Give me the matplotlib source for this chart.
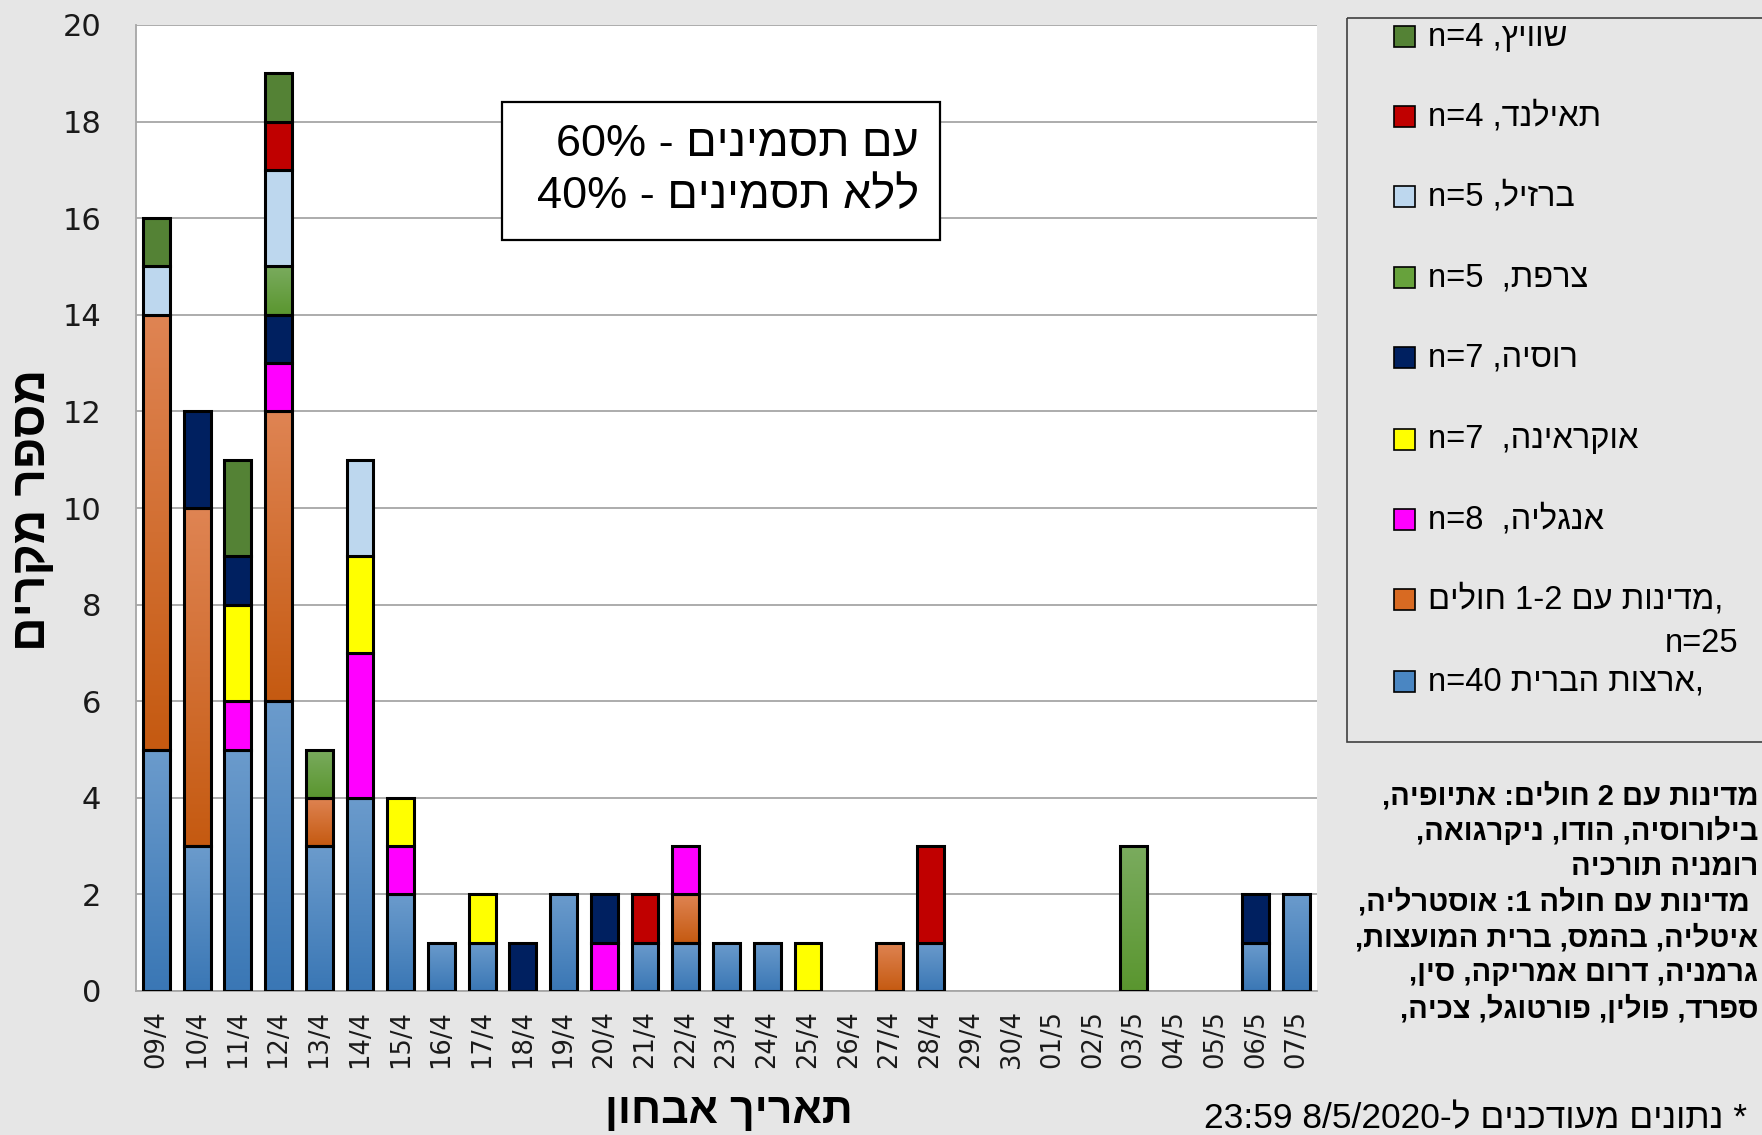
import re
import numpy as np
import matplotlib
matplotlib.use("Agg")
import matplotlib.pyplot as plt
from matplotlib.patches import Rectangle
from matplotlib.transforms import Affine2D
from matplotlib.colors import LinearSegmentedColormap

# ---------------- data ----------------
dates = ["09/4", "10/4", "11/4", "12/4", "13/4", "14/4", "15/4", "16/4", "17/4",
         "18/4", "19/4", "20/4", "21/4", "22/4", "23/4", "24/4", "25/4", "26/4",
         "27/4", "28/4", "29/4", "30/4", "01/5", "02/5", "03/5", "04/5", "05/5",
         "06/5", "07/5"]

usa      = [5, 3, 5, 6, 3, 4, 2, 1, 1, 0, 2, 0, 1, 1, 1, 1, 0, 0, 0, 1, 0, 0, 0, 0, 0, 0, 0, 1, 2]
other    = [9, 7, 0, 6, 1, 0, 0, 0, 0, 0, 0, 0, 0, 1, 0, 0, 0, 0, 1, 0, 0, 0, 0, 0, 0, 0, 0, 0, 0]
england  = [0, 0, 1, 1, 0, 3, 1, 0, 0, 0, 0, 1, 0, 1, 0, 0, 0, 0, 0, 0, 0, 0, 0, 0, 0, 0, 0, 0, 0]
ukraine  = [0, 0, 2, 0, 0, 2, 1, 0, 1, 0, 0, 0, 0, 0, 0, 0, 1, 0, 0, 0, 0, 0, 0, 0, 0, 0, 0, 0, 0]
russia   = [0, 2, 1, 1, 0, 0, 0, 0, 0, 1, 0, 1, 0, 0, 0, 0, 0, 0, 0, 0, 0, 0, 0, 0, 0, 0, 0, 1, 0]
france   = [0, 0, 0, 1, 1, 0, 0, 0, 0, 0, 0, 0, 0, 0, 0, 0, 0, 0, 0, 0, 0, 0, 0, 0, 3, 0, 0, 0, 0]
brazil   = [1, 0, 0, 2, 0, 2, 0, 0, 0, 0, 0, 0, 0, 0, 0, 0, 0, 0, 0, 0, 0, 0, 0, 0, 0, 0, 0, 0, 0]
thailand = [0, 0, 0, 1, 0, 0, 0, 0, 0, 0, 0, 0, 1, 0, 0, 0, 0, 0, 0, 2, 0, 0, 0, 0, 0, 0, 0, 0, 0]
swiss    = [1, 0, 2, 1, 0, 0, 0, 0, 0, 0, 0, 0, 0, 0, 0, 0, 0, 0, 0, 0, 0, 0, 0, 0, 0, 0, 0, 0, 0]

yticks = [0, 2, 4, 6, 8, 10, 12, 14, 16, 18, 20]

# legend labels (logical Hebrew order)
lab_usa = ",ארצות הברית n=40"
lab_other = ",מדינות עם 1-2 חולים"
lab_other2 = "n=25"
lab_england = "אנגליה,  n=8"
lab_ukraine = "אוקראינה,  n=7"
lab_russia = "רוסיה, n=7"
lab_france = "צרפת,  n=5"
lab_brazil = "ברזיל, n=5"
lab_thailand = "תאילנד, n=4"
lab_swiss = "שוויץ, n=4"

box_lines = ["עם תסמינים - 60%", "ללא תסמינים - 40%"]
notes = ["מדינות עם 2 חולים: אתיופיה,",
         "בילורוסיה, הודו, ניקרגואה,",
         "רומניה תורכיה",
         " מדינות עם חולה 1: אוסטרליה,",
         "איטליה, בהמס, ברית המועצות,",
         "גרמניה, דרום אמריקה, סין,",
         "ספרד, פולין, פורטוגל, צכיה,"]
footnote = "* נתונים מעודכנים ל-8/5/2020 23:59"
ylabel = "מספר מקרים"
xlabel = "תאריך אבחון"

# ---------------- helpers ----------------
LTR = re.compile(r"[0-9A-Za-z%](?:[0-9A-Za-z%=/:.\-]*[0-9A-Za-z%])?")


def heb(s):
    """Very small bidi: produce visual (LTR) order for an RTL paragraph."""
    parts, pos = [], 0
    for m in LTR.finditer(s):
        if m.start() > pos:
            parts.append(s[pos:m.start()][::-1])
        parts.append(m.group())
        pos = m.end()
    if pos < len(s):
        parts.append(s[pos:][::-1])
    return "".join(parts[::-1])


W, H, DPI = 1762, 1135, 100
BG = "#e6e6e6"
plt.rcParams["font.family"] = ["Liberation Sans", "DejaVu Sans"]

fig = plt.figure(figsize=(W / DPI, H / DPI), dpi=DPI, facecolor=BG)
px = Affine2D().scale(1.0 / W, -1.0 / H).translate(0, 1) + fig.transFigure

ax = fig.add_axes([136 / W, 1 - 991 / H, (1317 - 136) / W, (991 - 25) / H])
ax.set_facecolor("white")

x = np.arange(len(dates))
series = [
    (usa, "#4a86c2", ("#6b9bcc", "#3a77b5")),
    (other, "#d86a22", ("#df8453", "#c55a11")),
    (england, "#ff00ff", None),
    (ukraine, "#ffff00", None),
    (russia, "#002060", None),
    (france, "#67a23c", ("#7aab5e", "#5a962f")),
    (brazil, "#bdd7ee", None),
    (thailand, "#c00000", None),
    (swiss, "#548235", None),
]

bottom = np.zeros(len(dates))
grad = np.linspace(0, 1, 100).reshape(-1, 1)
for vals, col, g in series:
    v = np.array(vals, dtype=float)
    idx = v > 0
    bars = ax.bar(x[idx], v[idx], width=0.66, bottom=bottom[idx],
                  color=("none" if g else col), edgecolor="black",
                  linewidth=2.2, zorder=3)
    if g:
        cmap = LinearSegmentedColormap.from_list("g", [g[1], g[0]])
        for p in bars.patches:
            x0, y0, w, h = p.get_x(), p.get_y(), p.get_width(), p.get_height()
            im = ax.imshow(grad, cmap=cmap, origin="lower", aspect="auto",
                           extent=[x0, x0 + w, y0, y0 + h], zorder=2.5,
                           interpolation="bilinear")
            im.set_clip_path(p)
    bottom += v

ax.set_xlim(-0.5, len(dates) - 0.5)
ax.set_ylim(0, 20)
ax.set_yticks(yticks)
ax.set_yticklabels([str(t) for t in yticks])
ax.set_xticks(x)
ax.set_xticklabels(dates, rotation=90)
ax.tick_params(axis="y", length=0, pad=25, labelsize=22, labelcolor="#1a1a1a",
               labelfontfamily="DejaVu Sans")
ax.tick_params(axis="x", length=0, pad=14, labelsize=18.5, labelcolor="#1a1a1a",
               labelfontfamily="DejaVu Sans")
ax.yaxis.grid(True, color="#a6a6a6", linewidth=1.3)
ax.set_axisbelow(True)
for s in ("top", "right"):
    ax.spines[s].set_visible(False)
for s in ("left", "bottom"):
    ax.spines[s].set_color("#a6a6a6")
    ax.spines[s].set_linewidth(1.3)

# axis labels
fig.text(33, 510, heb(ylabel), transform=px, rotation=90, ha="center",
         va="center", fontsize=34.5, fontweight="bold")
fig.text(729, 1112, heb(xlabel), transform=px, ha="center", va="center",
         fontsize=31, fontweight="bold")

# annotation box
fig.add_artist(Rectangle((502, 102), 438, 138, transform=px, facecolor="white",
                         edgecolor="black", linewidth=1.6))
fig.text(919, 144, heb(box_lines[0]), transform=px, ha="right", va="center",
         fontsize=32.5)
fig.text(919, 197, heb(box_lines[1]), transform=px, ha="right", va="center",
         fontsize=32.5)

# legend
fig.add_artist(Rectangle((1347, 18), 440, 724, transform=px, facecolor="none",
                         edgecolor="#404040", linewidth=1.2))
legend_items = [
    (lab_swiss, "#548235", 37),
    (lab_thailand, "#c00000", 117),
    (lab_brazil, "#bdd7ee", 197),
    (lab_france, "#67a23c", 278),
    (lab_russia, "#002060", 358),
    (lab_ukraine, "#ffff00", 440),
    (lab_england, "#ff00ff", 520),
    (lab_other, "#d86a22", 600),
    (lab_usa, "#4a86c2", 682),
]
for lab, col, yy in legend_items:
    fig.add_artist(Rectangle((1394, yy - 11), 21, 21, transform=px,
                             facecolor=col, edgecolor="black", linewidth=1.2))
    fig.text(1428, yy, heb(lab), transform=px, ha="left", va="center",
             fontsize=23.5)
fig.text(1738, 643, heb(lab_other2), transform=px, ha="right", va="center",
         fontsize=23.5)

# notes
for i, line in enumerate(notes):
    fig.text(1758, 796 + 35.5 * i, heb(line), transform=px, ha="right",
             va="center", fontsize=21, fontweight="bold")

fig.text(1747, 1119, heb(footnote), transform=px, ha="right", va="center",
         fontsize=25.5)

fig.savefig("out.png", dpi=DPI, facecolor=BG)
